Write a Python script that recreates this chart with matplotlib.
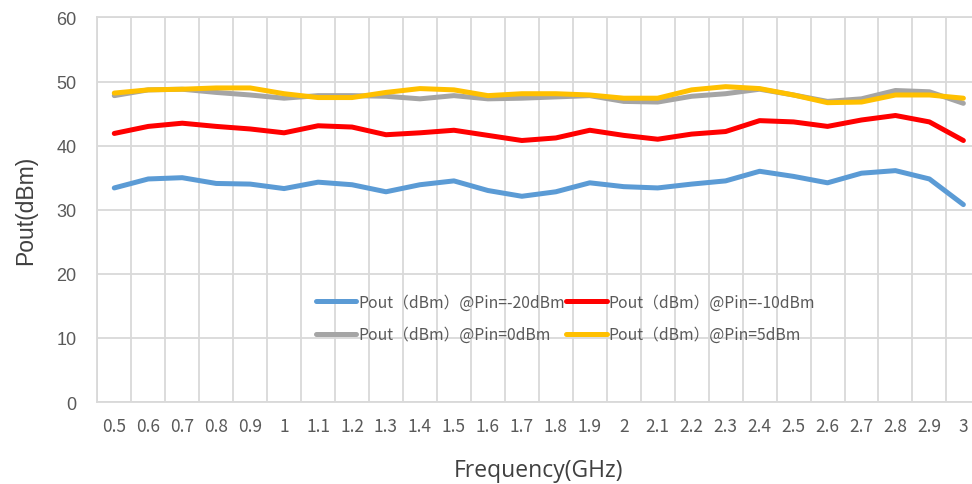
import matplotlib.pyplot as plt

plt.rcParams['font.family'] = ['Noto Sans CJK SC', 'DejaVu Sans']

# -------- DATA --------
freq_labels = ['0.5', '0.6', '0.7', '0.8', '0.9', '1', '1.1', '1.2', '1.3', '1.4',
               '1.5', '1.6', '1.7', '1.8', '1.9', '2', '2.1', '2.2', '2.3', '2.4',
               '2.5', '2.6', '2.7', '2.8', '2.9', '3']

pout_m20 = [33.4, 34.8, 35.0, 34.1, 34.0, 33.3, 34.3, 33.9, 32.8, 33.9,
            34.5, 33.0, 32.1, 32.8, 34.2, 33.6, 33.4, 34.0, 34.5, 36.0,
            35.2, 34.2, 35.7, 36.1, 34.8, 30.8]
pout_m10 = [41.9, 43.0, 43.5, 43.0, 42.6, 42.0, 43.1, 42.9, 41.7, 42.0,
            42.4, 41.6, 40.8, 41.2, 42.4, 41.6, 41.0, 41.8, 42.2, 43.9,
            43.7, 43.0, 44.0, 44.7, 43.7, 40.8]
pout_0 = [47.8, 48.7, 48.8, 48.3, 47.9, 47.4, 47.8, 47.8, 47.7, 47.3,
          47.8, 47.3, 47.4, 47.6, 47.8, 46.9, 46.8, 47.7, 48.1, 48.8,
          47.9, 46.9, 47.3, 48.6, 48.4, 46.6]
pout_5 = [48.2, 48.7, 48.8, 49.0, 49.0, 48.1, 47.5, 47.5, 48.3, 48.9,
          48.7, 47.8, 48.1, 48.1, 47.9, 47.4, 47.4, 48.7, 49.2, 48.9,
          47.9, 46.7, 46.8, 47.9, 47.9, 47.4]

series = [
    (pout_m20, '#5B9BD5', 'Pout（dBm）@Pin=-20dBm'),
    (pout_m10, '#FF0000', 'Pout（dBm）@Pin=-10dBm'),
    (pout_0, '#A5A5A5', 'Pout（dBm）@Pin=0dBm'),
    (pout_5, '#FFC000', 'Pout（dBm）@Pin=5dBm'),
]

# -------- PLOT --------
fig = plt.figure(figsize=(9.72, 4.85), dpi=100)
ax = fig.add_axes([0.1001, 0.169, 0.9085, 0.793])

x = list(range(len(freq_labels)))
lines = []
for vals, color, label in series:
    ln, = ax.plot(x, vals, color=color, linewidth=3.6, label=label,
                  solid_capstyle='round', solid_joinstyle='round', zorder=3)
    lines.append(ln)

ax.set_xlim(-0.5, len(freq_labels) - 0.5)
ax.set_ylim(0, 60)
ax.set_xticks(x)
ax.set_xticklabels(freq_labels)
ax.set_xticks([i - 0.5 for i in range(len(freq_labels) + 1)], minor=True)
ax.set_yticks(range(0, 61, 10))

ax.grid(which='minor', axis='x', color='#d9d9d9', linewidth=1.3)
ax.grid(which='major', axis='y', color='#d9d9d9', linewidth=1.3)
ax.tick_params(which='both', length=0)
ax.tick_params(axis='x', labelsize=12.5, colors='#595959', pad=11)
ax.tick_params(axis='y', labelsize=13, colors='#595959', pad=15)
for lab in ax.get_yticklabels():
    lab.set_family('Liberation Sans')
for s in ax.spines.values():
    s.set_color('#d9d9d9')
    s.set_linewidth(1.3)

ax.set_xlabel('Frequency(GHz)', fontsize=16.5, color='#404040', labelpad=16,
              family='Open Sans')
ax.set_ylabel('Pout(dBm)', fontsize=16.5, color='#404040', labelpad=14,
              family='Liberation Sans')

# legend fills column-wise, so reorder to get -20/-10 on row 1 and 0/5 on row 2
order = [0, 2, 1, 3]
leg = ax.legend([lines[i] for i in order], [series[i][2] for i in order],
                ncol=2, loc='center', bbox_to_anchor=(0.53, 0.218),
                frameon=False, fontsize=11.3, handlelength=2.6,
                handletextpad=0.1, columnspacing=0.1, labelspacing=1.0)
for t in leg.get_texts():
    t.set_color('#595959')

fig.savefig('out.png', dpi=100)
